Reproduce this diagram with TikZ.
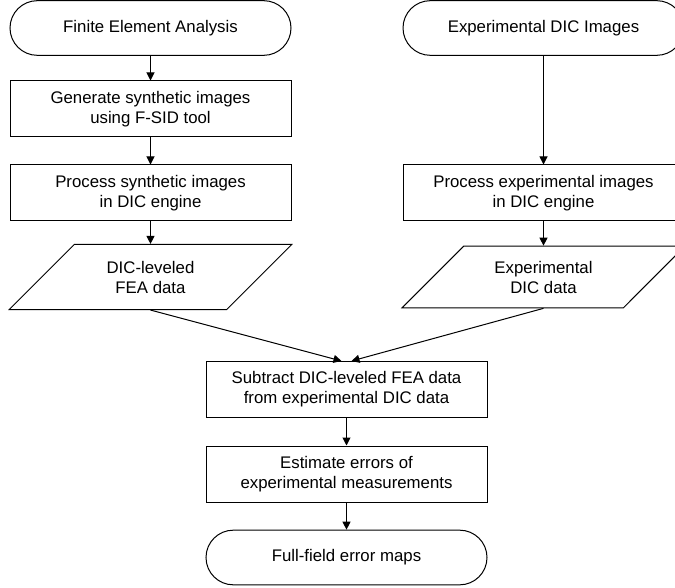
\documentclass[tikz,border=0pt]{standalone}
\usepackage{fontspec}
\setmainfont{Liberation Sans}
\usetikzlibrary{arrows.meta, calc, shapes.geometric}
\tikzset{%
    pri/.style={line width = 0.75pt},
    pria/.style={line width = 0.75pt, -{Triangle[length=6pt, width=6pt]}},
    term/.style={draw, pri, rounded corners=20.5pt, minimum width=210.75pt, minimum height=41pt, align=center},
    proc/.style={draw, pri, minimum width=210.75pt, minimum height=42pt, align=center},
    dat/.style={draw, pri, trapezium, trapezium left angle=45, trapezium right angle=135, minimum width=212.25pt, minimum height=42pt, align=center},
}
\begin{document}
\begin{tikzpicture}[x=0.75pt, y=-0.75pt, font=\fontsize{12.6}{15}\selectfont]
    \useasboundingbox (0,0) rectangle (675,588);
    % FEA branch
    \node [term] (fea) at (150.5,28) {Finite Element Analysis};
    \node [proc] (gen) at (150.5,109) {Generate synthetic images\\using F-SID tool};
    \node [proc] (procsyn) at (150.5,193) {Process synthetic images\\in DIC engine};
    \node [dat] (feadata) at (150.5,277) {DIC-leveled\\FEA data};
    % experiment branch
    \node [term] (expimg) at (543.5,28) {Experimental DIC Images};
    \node [proc] (procexp) at (543.5,193) {Process experimental images\\in DIC engine};
    \node [dat] (expdata) at (543.5,277) {Experimental\\DIC data};
    % comparison
    \node [proc] (sub) at (346.5,389.5) {Subtract DIC-leveled FEA data\\from experimental DIC data};
    \node [proc] (est) at (346.5,474) {Estimate errors of\\experimental measurements};
    \node [term] (maps) at (346.5,557.5) {Full-field error maps};
    \draw [pria] (fea) -- (gen);
    \draw [pria] (gen) -- (procsyn);
    \draw [pria] (procsyn) -- (feadata);
    \draw [pria] (expimg) -- (procexp);
    \draw [pria] (procexp) -- (expdata);
    \draw [pria] (feadata.south) -- ($(sub.north)+(-5,0)$);
    \draw [pria] (expdata.south) -- ($(sub.north)+(5,0)$);
    \draw [pria] (sub) -- (est);
    \draw [pria] (est) -- (maps);
\end{tikzpicture}
\end{document}
